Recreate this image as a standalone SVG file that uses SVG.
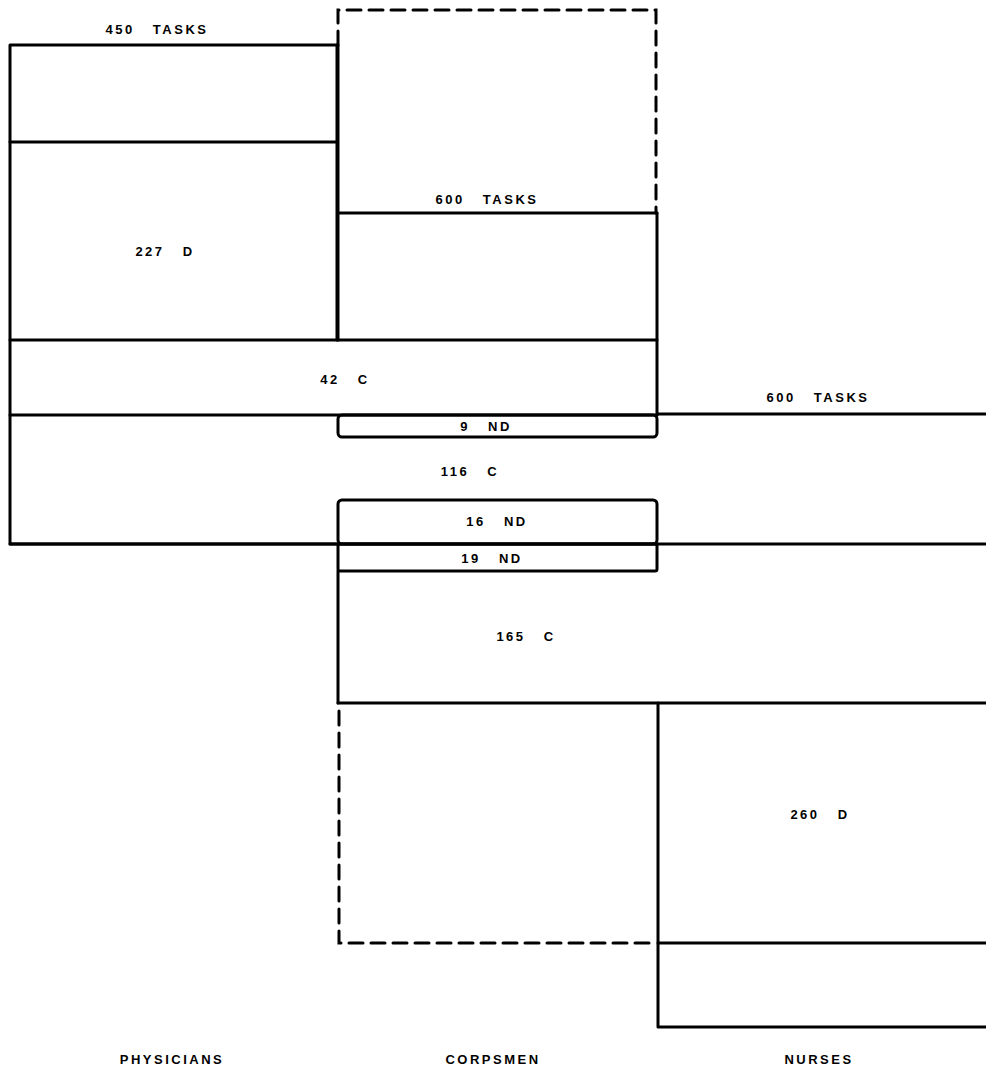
<svg xmlns="http://www.w3.org/2000/svg" width="986" height="1076" viewBox="0 0 986 1076">
<style>
.s{fill:none;stroke:#000;stroke-width:3;stroke-linecap:round;stroke-linejoin:round}
.d{fill:none;stroke:#000;stroke-width:3;stroke-dasharray:14,8;stroke-linecap:round}
text{font-family:"Liberation Sans",Arial,sans-serif;font-weight:bold;font-size:13px;letter-spacing:2.5px;word-spacing:12px;text-anchor:middle;fill:#000}
</style>
<rect width="986" height="1076" fill="#fff"/>
<g id="physicians">
<path class="s" d="M337,45 H10 V544 H337"/>
<line class="s" x1="10" y1="142" x2="337" y2="142"/>
<line class="s" x1="337" y1="45" x2="337" y2="340"/>
<text x="157" y="34">450 TASKS</text>
<text x="165" y="256">227 D</text>
</g>
<g id="band42">
<path class="s" d="M10,340 H657 M10,415 H657"/>
<line class="s" x1="657" y1="213" x2="657" y2="415"/>
<text x="345" y="384">42 C</text>
</g>
<g id="corpsmen">
<path class="d" d="M338,45 V10 H656 V213"/>
<line class="s" x1="338" y1="45" x2="338" y2="340"/>
<line class="s" x1="338" y1="213" x2="657" y2="213"/>
<text x="487" y="204">600 TASKS</text>
<rect class="s" x="338" y="415" width="319" height="22" rx="4"/>
<text x="486" y="431">9 ND</text>
<text x="470" y="476">116 C</text>
<rect class="s" x="338" y="500" width="319" height="44" rx="4"/>
<text x="497" y="526">16 ND</text>
<rect class="s" x="338" y="544" width="319" height="27" rx="2"/>
<text x="492" y="563">19 ND</text>
<line class="s" x1="338" y1="571" x2="338" y2="703"/>
<path class="d" d="M339,711 V943 H650"/>
</g>
<g id="nurses">
<line class="s" x1="657" y1="414" x2="986" y2="414"/>
<line class="s" x1="10" y1="544" x2="986" y2="544"/>
<text x="818" y="402">600 TASKS</text>
<line class="s" x1="338" y1="703" x2="986" y2="703"/>
<text x="526" y="641">165 C</text>
<path class="s" d="M658,703 V1027 H986"/>
<line class="s" x1="658" y1="943" x2="986" y2="943"/>
<text x="820" y="819">260 D</text>
</g>
<g id="labels">
<text x="172" y="1064">PHYSICIANS</text>
<text x="493" y="1064">CORPSMEN</text>
<text x="819" y="1064">NURSES</text>
</g>
</svg>
